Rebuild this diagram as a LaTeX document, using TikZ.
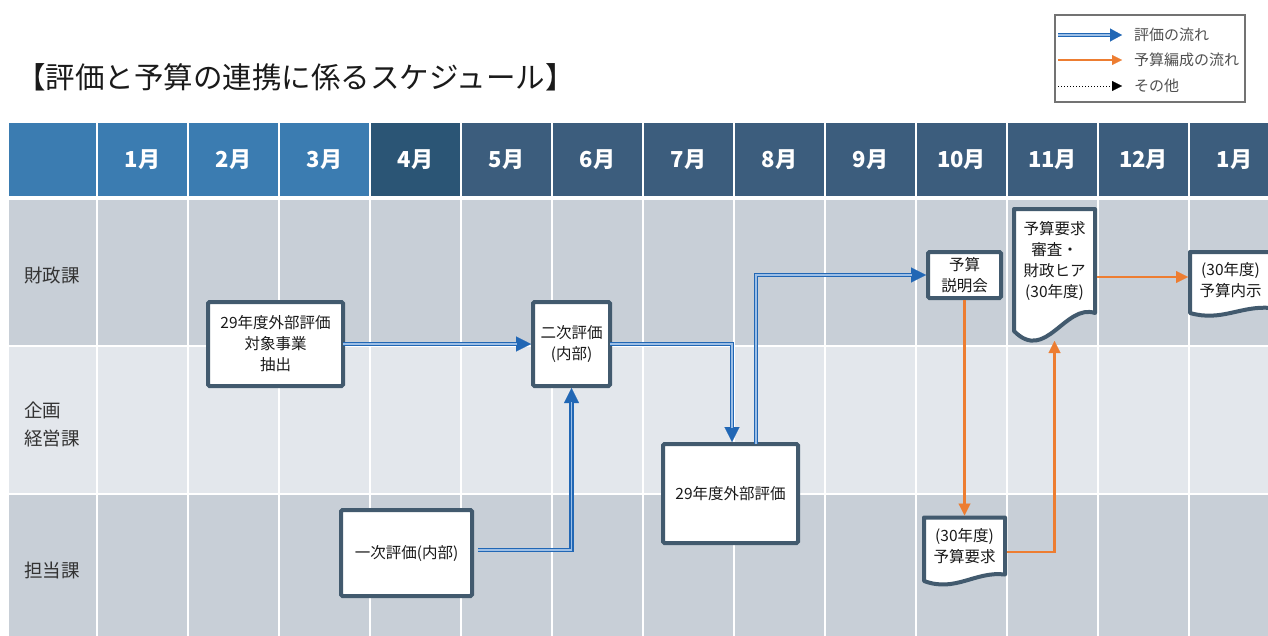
\documentclass[tikz,border=0pt]{standalone}
\usepackage{fontspec}
\setmainfont{Noto Sans CJK JP}
\usetikzlibrary{arrows.meta,calc,backgrounds}
\definecolor{hdrA}{HTML}{3B7CB1}
\definecolor{hdrB}{HTML}{2B5575}
\definecolor{hdrC}{HTML}{3C5D7D}
\definecolor{rowD}{HTML}{C8CFD7}
\definecolor{rowL}{HTML}{E3E7EC}
\definecolor{nodeB}{HTML}{425A6E}
\definecolor{evBlue}{HTML}{2167B5}
\definecolor{evLight}{HTML}{9DBFE6}
\definecolor{bdOrange}{HTML}{ED7D31}
\definecolor{txtc}{HTML}{1A1A1A}
\definecolor{lblc}{HTML}{333333}
\definecolor{legc}{HTML}{505050}
\newcommand\docshape[2]{%
  \path[docline] (#1.north west) -- (#1.north east) -- (#1.south east)
    .. controls ($(#1.south west)!0.63!(#1.south east)+(0,-0.55*#2)$)
    and ($(#1.south west)!0.39!(#1.south east)+(0,2.8*#2)$)
    .. ($(#1.south west)+(0,#2)$) -- cycle;}
\begin{document}
\begin{tikzpicture}[x=1pt,y=-1pt,
  cell/.style={draw=white, line width=2.5pt},
  month/.style={text=white, font=\bfseries\fontsize{22}{26}\selectfont, inner sep=0pt},
  rowlbl/.style={text=lblc, font=\fontsize{18.5}{28}\selectfont, inner sep=0pt, anchor=west, align=left},
  box/.style={draw=nodeB, line width=4pt, fill=white, rounded corners=1.5pt, inner sep=0pt, outer sep=0pt,
    align=center, text=txtc, font=\fontsize{15.5}{21}\selectfont},
  docbox/.style={inner sep=0pt, outer sep=0pt, align=center, text=txtc, font=\fontsize{15.5}{21}\selectfont},
  docline/.style={draw=nodeB, line width=4pt, fill=white, line join=round},
  evflow/.style={draw=evBlue, line width=4.4pt, shorten >=2pt,
    -{Triangle[length=15pt,width=15pt,line width=0.1pt]},
    postaction={draw=evLight, line width=1.4pt, -, shorten >=16pt}},
  bgflow/.style={draw=bdOrange, line width=2.2pt, shorten >=2pt, shorten <=2pt,
    -{Triangle[length=12pt,width=12pt,line width=0.1pt]}},
  legbox/.style={draw=legc!80, line width=1.2pt, inner sep=0pt},
  legtext/.style={anchor=west, text=legc, font=\fontsize{15}{17}\selectfont, inner sep=0pt},
]
\useasboundingbox (0,0) rectangle (1268,635);
\begin{pgfonlayer}{background}
  \fill[white] (0,0) rectangle (1268,635);
  \foreach \l/\r/\c in {8/97/hdrA, 97/188/hdrA, 188/279/hdrA, 279/370/hdrA, 370/461/hdrB,
      461/552/hdrC, 552/643/hdrC, 643/734/hdrC, 734/825/hdrC, 825/916/hdrC, 916/1007/hdrC,
      1007/1098/hdrC, 1098/1189/hdrC, 1189/1290/hdrC}
    \path[cell, fill=\c] (\l,122) rectangle (\r,197);
  \foreach \t/\b/\c in {199/346/rowD, 346/494/rowL, 494/650/rowD}
    \foreach \l/\r in {8/97, 97/188, 188/279, 279/370, 370/461, 461/552, 552/643, 643/734,
        734/825, 825/916, 916/1007, 1007/1098, 1098/1189, 1189/1290}
      \path[cell, fill=\c] (\l,\t) rectangle (\r,\b);
\end{pgfonlayer}

% title
\node[anchor=west, inner sep=0pt, text=txtc, font=\fontsize{29.5}{33}\selectfont] (title) at (16,77)
  {【評価と予算の連携に係るスケジュール】};

% legend
\node[legbox, minimum width=190, minimum height=87] (leg) at (1150,58.5) {};
\coordinate (la1) at (1058,35); \coordinate (la2) at (1122,35);
\coordinate (lb1) at (1058,60); \coordinate (lb2) at (1122,60);
\coordinate (lc1) at (1058,86); \coordinate (lc2) at (1122,86);
\draw[draw=evBlue, line width=4.5pt, -{Triangle[length=12pt,width=13pt,line width=0.1pt]},
  postaction={draw=evLight, line width=1.5pt, -, shorten >=12pt}] (la1) -- (la2);
\draw[draw=bdOrange, line width=1.5pt, -{Triangle[length=10pt,width=10pt,line width=0.1pt]}] (lb1) -- (lb2);
\draw[draw=black, line width=1pt, dotted, -{Triangle[length=10pt,width=10pt,line width=0.1pt]}] (lc1) -- (lc2);
\node[legtext] (lt1) at (1134,35) {評価の流れ};
\node[legtext] (lt2) at (1134,60) {予算編成の流れ};
\node[legtext] (lt3) at (1134,86) {その他};

% months
\foreach \m [count=\i] in {1,2,3,4,5,6,7,8,9,10,11,12,1}
  \node[month] (m\i) at (51.5+91*\i,160) {{\m}月};

% row labels
\node[rowlbl] (r1) at (24,275) {財政課};
\node[rowlbl] (r2) at (24,424) {企画\\経営課};
\node[rowlbl] (r3) at (24,570) {担当課};

% process boxes
\node[box, minimum width=135, minimum height=84] (A) at (275.5,344) {29年度外部評価\\対象事業\\抽出};
\node[box, minimum width=77, minimum height=84] (B) at (571.5,344) {二次評価\\(内部)};
\node[box, minimum width=131, minimum height=86] (C) at (406.5,553) {一次評価(内部)};
\node[box, minimum width=135, minimum height=99] (D) at (730.5,493.5) {29年度外部評価};
\node[box, minimum width=73, minimum height=46] (E) at (964.5,275) {予算\\説明会};

% documents
\node[docbox, minimum width=81, minimum height=104] (F) at (1054.5,261) {予算要求\\審査・\\財政ヒア\\(30年度)};
\node[docbox, minimum width=81, minimum height=57] (G) at (964.5,546) {(30年度)\\予算要求};
\node[docbox, minimum width=81, minimum height=56] (H) at (1230.5,280) {(30年度)\\予算内示};
\begin{pgfonlayer}{background}
  \docshape{F}{18}
  \docshape{G}{6.5}
  \docshape{H}{5}
\end{pgfonlayer}

% evaluation flow
\draw[evflow] (A.east) -- (B.west);
\draw[evflow] (B.east) -| ($(D.north)+(1.5,0)$);
\draw[evflow] ($(D.north)+(25.5,0)$) |- (E.west);
\draw[evflow] ($(C.east)+(6,-3)$) -| (B.south);

% budget flow
\draw[bgflow] (E.south) -- (G.north);
\draw[bgflow] ($(G.east)+(0,6)$) -| ($(F.south)+(0,26)$);
\draw[bgflow] ($(F.east)+(0,16)$) -- ($(H.west)+(0,-3)$);
\end{tikzpicture}
\end{document}
